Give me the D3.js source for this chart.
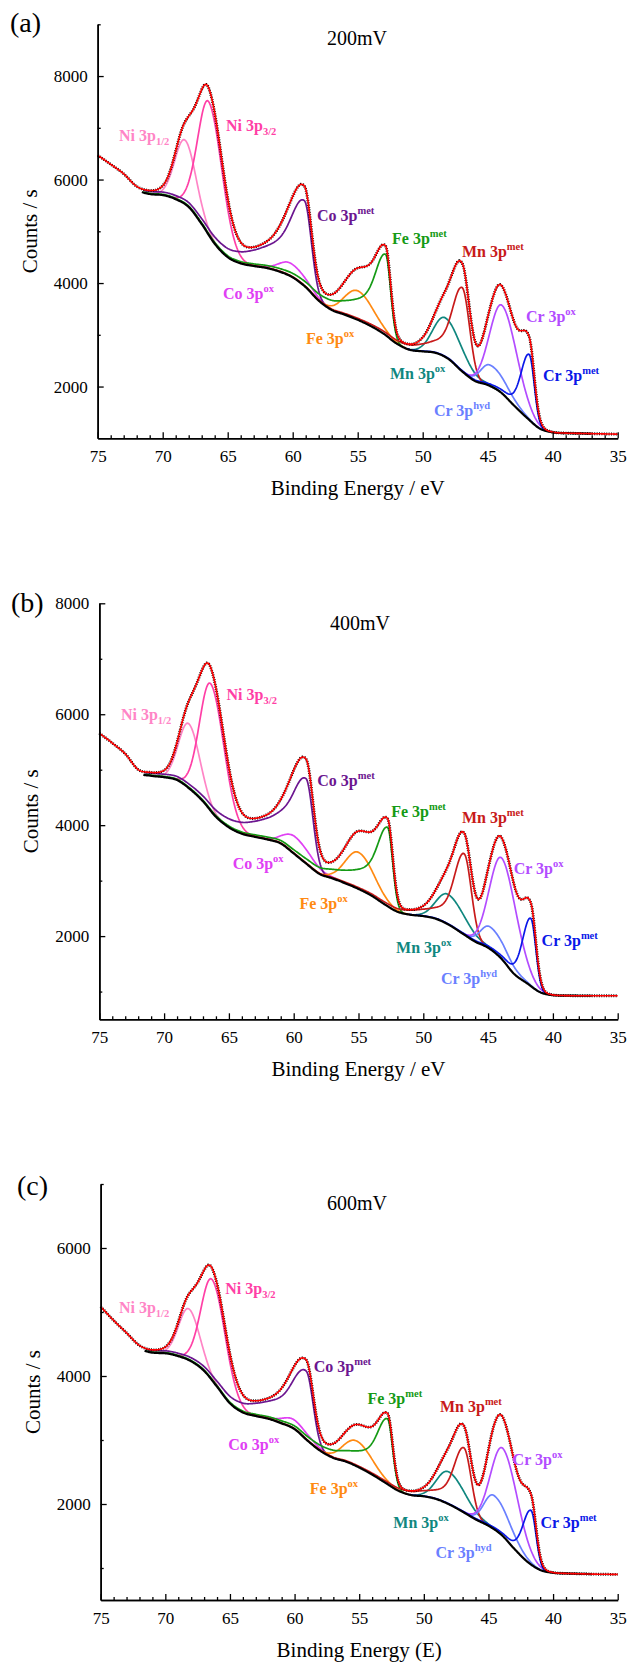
<!DOCTYPE html>
<html>
<head>
<meta charset="utf-8">
<script src="https://cdn.jsdelivr.net/npm/d3@7/dist/d3.min.js"></script>
<style>
  body { margin: 0; background: #fff; }
  svg { display: block; }
  text { font-family: "Liberation Serif", "Times New Roman", serif; }
</style>
</head>
<body>
<svg id="chart" width="627" height="1664"></svg>
<script>
// ---------------- data ----------------
// Binding energies at which the Shirley background was sampled (eV)
const bgEnergy = [75,74,73,72,71,70,69,68,67,66,65,64,63,62,61,60,59,58,57,56,55,54,53,52,51,50,49,48,47,46,45,44,43,42,41,40,39,38,37,36,35];
// Background (counts / s) for each polarisation potential
const bg200 = [6430,6250,6060,5810,5720,5700,5620,5470,5140,4760,4500,4380,4330,4290,4220,4110,3920,3660,3480,3390,3290,3170,3020,2830,2710,2680,2650,2530,2300,2110,2030,1890,1640,1400,1190,1115,1100,1095,1090,1085,1080];
const bg400 = [5623,5440,5240,4950,4890,4865,4813,4650,4430,4150,3960,3845,3790,3740,3670,3490,3300,3120,3040,2950,2850,2730,2575,2440,2385,2360,2310,2200,2050,1900,1790,1600,1320,1150,990,935,927,925,925,925,925];
const bg600 = [5057,4840,4641,4440,4365,4355,4310,4230,4080,3833,3573,3430,3375,3330,3260,3170,2990,2830,2720,2661,2570,2460,2335,2210,2140,2120,2075,1990,1880,1760,1660,1520,1300,1100,970,925,915,910,905,902,900];

// Fitted 3p components
const compMain   = ["Ni 3p","Ni 3p","Co 3p","Co 3p","Fe 3p","Fe 3p","Mn 3p","Mn 3p","Cr 3p","Cr 3p","Cr 3p"];
const compScript = ["1/2","3/2","ox","met","ox","met","ox","met","hyd","ox","met"];
const compIsSub  = [true,true,false,false,false,false,false,false,false,false,false];
// Line shape: Gaussian FWHM on the low-BE and high-BE side, tail fraction and tail FWHM (eV)
const widthLow  = [2.0, 2.4, 3.0, 1.25, 2.8, 0.9, 3.0, 1.3, 2.9, 2.7, 0.9];
const widthHigh = [1.8, 2.0, 2.0, 2.0,  2.4, 1.6, 2.1, 1.6, 1.7, 2.2, 1.4];
const tailFrac  = [0,   0,   0,   0.5,  0,   0.45, 0,  0.3, 0,   0,   0.12];
const tailWidth = [0,   0,   0,   6,    0,   5,   0,   4,   0,   0,   3.5];

// Peak positions (eV) and intensities above background (counts / s)
const centres200 = [68.3, 66.45, 60.2, 59.1, 55.0, 52.85, 48.28, 46.95, 44.82, 43.9, 41.8];
const heights200 = [1235, 2575, 250, 1650, 560, 1560, 755, 1620, 405, 1700, 1263];
const centres400 = [68.1, 66.4, 59.9, 59.05, 55.0, 52.75, 48.1, 46.85, 44.85, 43.95, 41.7];
const heights400 = [1160, 2290, 320, 1530, 660, 1420, 540, 1460, 400, 1820, 1220];
const centres600 = [68.2, 66.37, 60.1, 59.1, 55.2, 52.8, 48.1, 46.9, 44.6, 43.9, 41.7];
const heights600 = [800, 1575, 140, 1070, 395, 1020, 505, 1010, 525, 1370, 845];

// Label anchors in data units [BE, counts]
const labels200 = [[73.36,6852],[65.13,7044],[65.36,3794],[58.13,5313],[58.98,2929],[52.36,4871],[52.52,2256],[46.98,4602],[49.13,1544],[42.05,3352],[40.75,2217]];
const labels400 = [[73.33,6001],[65.18,6362],[64.71,3317],[58.18,4812],[59.56,2596],[52.48,4254],[52.10,1803],[47.02,4145],[48.64,1244],[43.02,3226],[40.87,1929]];
const labels600 = [[73.59,5078],[65.36,5375],[65.13,2938],[58.52,4156],[58.82,2250],[54.36,3656],[52.36,1719],[48.75,3531],[49.10,1250],[43.13,2703],[40.98,1719]];

// Axis ticks
const xMajor = [75,70,65,60,55,50,45,40,35];
const xMinor = [74,73,72,71,69,68,67,66,64,63,62,61,59,58,57,56,54,53,52,51,49,48,47,46,44,43,42,41,39,38,37,36];

// ---------------- styling / layout ----------------
const compColors = ["#ff85c6","#ff3fa6","#e040f4","#6c1690","#ff8a12","#159a15","#10877f","#c81a1a","#6a80ff","#b34cff","#0a18e8"];
const panels = [
  { tag:"(a)", title:"200mV", xTitle:"Binding Energy / eV", bg:bg200, centres:centres200, heights:heights200, labels:labels200,
    yDomain:[1000,9000], yMajor:[2000,4000,6000,8000], yMinor:[3000,5000,7000,9000],
    left:97.7, right:617.7, top:24.3, bottom:438.3, tagX:10, tagY:32, titleX:327, titleY:45, yTitleX:37, xTitleY:495 },
  { tag:"(b)", title:"400mV", xTitle:"Binding Energy / eV", bg:bg400, centres:centres400, heights:heights400, labels:labels400,
    yDomain:[500,8000], yMajor:[2000,4000,6000,8000], yMinor:[1000,3000,5000,7000],
    left:99.3, right:617.7, top:603.3, bottom:1019.3, tagX:11, tagY:612, titleX:330, titleY:630, yTitleX:38, xTitleY:1076 },
  { tag:"(c)", title:"600mV", xTitle:"Binding Energy (E)", bg:bg600, centres:centres600, heights:heights600, labels:labels600,
    yDomain:[500,7000], yMajor:[2000,4000,6000], yMinor:[1000,3000,5000,7000],
    left:100.7, right:617.7, top:1184, bottom:1600, tagX:17, tagY:1195, titleX:327, titleY:1210, yTitleX:40, xTitleY:1657 }
];

// ---------------- helpers ----------------
// Monotone cubic (Fritsch-Carlson) evaluation of the sampled background
function monotone(xs, ys) {
  const n = xs.length, dx = [], m = [], t = new Array(n);
  for (let i = 0; i < n - 1; i++) { dx.push(xs[i+1]-xs[i]); m.push((ys[i+1]-ys[i])/dx[i]); }
  t[0] = m[0]; t[n-1] = m[n-2];
  for (let i = 1; i < n - 1; i++) t[i] = (m[i-1]*m[i] <= 0) ? 0 : (m[i-1]+m[i])/2;
  for (let i = 0; i < n - 1; i++) {
    if (m[i] === 0) { t[i] = 0; t[i+1] = 0; continue; }
    const a = t[i]/m[i], b = t[i+1]/m[i], s = a*a + b*b;
    if (s > 9) { const k = 3/Math.sqrt(s); t[i] = k*a*m[i]; t[i+1] = k*b*m[i]; }
  }
  return x => {
    let i = d3.bisectRight(xs, x) - 1;
    i = Math.max(0, Math.min(n - 2, i));
    const h = dx[i], u = (x - xs[i]) / h, u2 = u*u, u3 = u2*u;
    return (2*u3-3*u2+1)*ys[i] + (u3-2*u2+u)*h*t[i] + (-2*u3+3*u2)*ys[i+1] + (u3-u2)*h*t[i+1];
  };
}

// Component line shape: Gaussian core with separate widths, optional high-BE tail
function profile(x, c, h, i) {
  const d = x - c;
  if (d <= 0) return h * Math.exp(-4*Math.LN2*d*d/(widthLow[i]*widthLow[i]));
  const g = Math.exp(-4*Math.LN2*d*d/(widthHigh[i]*widthHigh[i]));
  const l = tailWidth[i] > 0 ? 1/(1 + 4*d*d/(tailWidth[i]*tailWidth[i])) : 0;
  return h * ((1 - tailFrac[i])*g + tailFrac[i]*l);
}

const svg = d3.select("#chart");
const grid = d3.range(0, 801).map(k => 75 - k*0.05);

panels.forEach(p => {
  const x = d3.scaleLinear().domain([75, 35]).range([p.left, p.right]);
  const y = d3.scaleLinear().domain(p.yDomain).range([p.bottom, p.top]);
  const g = svg.append("g");

  const asc = bgEnergy.slice().reverse(), bgAsc = p.bg.slice().reverse();
  const bgAt = monotone(asc, bgAsc);

  const envelope = grid.map(e => {
    let v = bgAt(e);
    p.centres.forEach((c, i) => { v += profile(e, c, p.heights[i], i); });
    return [e, v];
  });

  const line = d3.line().x(d => x(d[0])).y(d => y(d[1]));

  // components (only where they rise above the background)
  p.centres.forEach((c, i) => {
    const pts = grid.filter(e => e <= 71.5 && e >= 36)
      .map(e => [e, profile(e, c, p.heights[i], i)])
      .filter(d => d[1] > 0.004 * p.heights[i])
      .map(d => [d[0], bgAt(d[0]) + d[1]]);
    g.append("path").attr("d", line(pts)).attr("fill", "none")
      .attr("stroke", compColors[i]).attr("stroke-width", 1.7);
  });

  // Shirley background
  const bgPts = grid.filter(e => e <= 71.6 && e >= 37).map(e => [e, bgAt(e)]);
  g.append("path").attr("d", line(bgPts)).attr("fill", "none")
    .attr("stroke", "#000").attr("stroke-width", 2.2);

  // measured counts (dotted) and fit envelope
  g.append("path").attr("d", line(envelope)).attr("fill", "none")
    .attr("stroke", "#000").attr("stroke-width", 2.9).attr("stroke-dasharray", "1 1.4");
  g.append("path").attr("d", line(envelope)).attr("fill", "none")
    .attr("stroke", "#ff0000").attr("stroke-width", 1.6);

  // axes
  const axStyle = sel => {
    sel.select(".domain").attr("stroke", "#000").attr("stroke-width", 1.6);
    sel.selectAll(".tick line").attr("stroke", "#000").attr("stroke-width", 1.3);
    sel.selectAll("text").attr("font-size", 17).attr("fill", "#000")
      .style("font-family", '"Liberation Serif", serif');
  };
  g.append("g").attr("transform", `translate(0,${p.bottom})`)
    .call(d3.axisBottom(x).tickValues(xMinor).tickSizeInner(-3).tickSizeOuter(0).tickFormat(""))
    .call(axStyle);
  g.append("g").attr("transform", `translate(0,${p.bottom})`)
    .call(d3.axisBottom(x).tickValues(xMajor).tickSizeInner(-6).tickSizeOuter(0).tickPadding(12).tickFormat(d3.format("d")))
    .call(axStyle);
  g.append("g").attr("transform", `translate(${p.left},0)`)
    .call(d3.axisLeft(y).tickValues(p.yMinor).tickSizeInner(-3).tickSizeOuter(0).tickFormat(""))
    .call(axStyle);
  g.append("g").attr("transform", `translate(${p.left},0)`)
    .call(d3.axisLeft(y).tickValues(p.yMajor).tickSizeInner(-6).tickSizeOuter(0).tickPadding(10).tickFormat(d3.format("d")))
    .call(axStyle);

  // titles
  g.append("text").attr("x", p.tagX).attr("y", p.tagY).attr("font-size", 28).text(p.tag);
  g.append("text").attr("x", p.titleX).attr("y", p.titleY).attr("font-size", 20).text(p.title);
  g.append("text").attr("x", (p.left + p.right)/2).attr("y", p.xTitleY).attr("font-size", 21)
    .attr("text-anchor", "middle").text(p.xTitle);
  g.append("text").attr("transform", `translate(${p.yTitleX},${(p.top + p.bottom)/2}) rotate(-90)`)
    .attr("font-size", 21).attr("text-anchor", "middle").text("Counts / s");

  // component labels
  p.labels.forEach((a, i) => {
    const t = g.append("text").attr("x", x(a[0])).attr("y", y(a[1])).attr("dy", "0.35em")
      .attr("font-size", 16).attr("font-weight", "bold").attr("fill", compColors[i]);
    t.append("tspan").text(compMain[i]);
    t.append("tspan").attr("font-size", 10.5).attr("dy", compIsSub[i] ? 4 : -7).text(compScript[i]);
  });
});
</script>
</body>
</html>
